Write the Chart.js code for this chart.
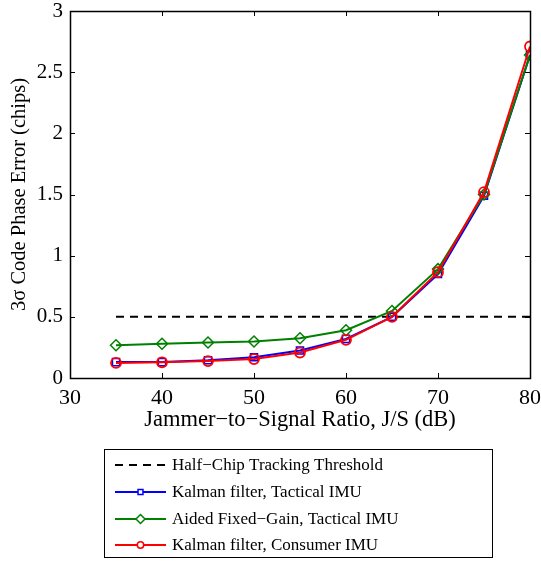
<!DOCTYPE html>
<html>
<head>
<meta charset="utf-8">
<script src="https://cdn.jsdelivr.net/npm/chart.js@4.4.0/dist/chart.umd.min.js"></script>
<style>
  html, body { margin: 0; padding: 0; background: #fff; }
  #wrap { width: 541px; height: 562px; }
</style>
</head>
<body>
<div id="wrap"><canvas id="phaseChart"></canvas></div>
<script>
// data
const jsRatio = [35, 40, 45, 50, 55, 60, 65, 70, 75, 80];
const kalmanTactical = [0.13, 0.13, 0.145, 0.17, 0.225, 0.32, 0.5, 0.85, 1.49, 2.64];
const fixedGainTactical = [0.268, 0.28, 0.29, 0.298, 0.325, 0.39, 0.548, 0.89, 1.5, 2.64];
const kalmanConsumer = [0.123, 0.128, 0.138, 0.155, 0.208, 0.312, 0.5, 0.865, 1.52, 2.71];
const thresholdX = [35, 80];
const thresholdY = [0.5, 0.5];
const xTicks = [30, 40, 50, 60, 70, 80];
const yTicks = [0, 0.5, 1, 1.5, 2, 2.5, 3];

const legendLabels = [
  "Half\u2212Chip Tracking Threshold",
  "Kalman filter, Tactical IMU",
  "Aided Fixed\u2212Gain, Tactical IMU",
  "Kalman filter, Consumer IMU",
];

const FONT = "'Liberation Serif', 'Times New Roman', serif";

const toPoints = (xs, ys) => xs.map((x, i) => ({ x: x, y: ys[i] }));

// box + inward ticks on all four sides, like matlab
const framePlugin = {
  id: "frame",
  afterDraw(chart) {
    const { ctx, chartArea: a, scales } = chart;
    const len = 5;
    ctx.save();
    ctx.strokeStyle = "#000";
    ctx.lineWidth = 1;
    ctx.beginPath();
    xTicks.forEach((v) => {
      const px = Math.round(scales.x.getPixelForValue(v)) + 0.5;
      ctx.moveTo(px, a.bottom);
      ctx.lineTo(px, a.bottom - len);
      ctx.moveTo(px, a.top);
      ctx.lineTo(px, a.top + len);
    });
    yTicks.forEach((v) => {
      const py = Math.round(scales.y.getPixelForValue(v)) + 0.5;
      ctx.moveTo(a.left, py);
      ctx.lineTo(a.left + len, py);
      ctx.moveTo(a.right, py);
      ctx.lineTo(a.right - len, py);
    });
    ctx.stroke();
    ctx.lineWidth = 1.5;
    ctx.strokeRect(Math.round(a.left) + 0.5, Math.round(a.top) + 0.5,
      Math.round(a.right - a.left), Math.round(a.bottom - a.top));
    ctx.restore();
  },
};

// legend box under the axes
const legendMarkerSize = [0, 3.5, 4.5, 3.2];

const legendBoxPlugin = {
  id: "legendBox",
  afterDraw(chart) {
    const ctx = chart.ctx;
    const box = { x: 104, y: 449, w: 388, h: 108 };
    const rowY = [465, 492, 519, 545];
    ctx.save();
    ctx.fillStyle = "#fff";
    ctx.fillRect(box.x, box.y, box.w, box.h);
    ctx.strokeStyle = "#000";
    ctx.lineWidth = 1;
    ctx.strokeRect(box.x + 0.5, box.y + 0.5, box.w, box.h);
    ctx.font = "17px " + FONT;
    ctx.textBaseline = "middle";
    chart.data.datasets.forEach((ds, i) => {
      const y = rowY[i];
      ctx.strokeStyle = ds.borderColor;
      ctx.lineWidth = 2;
      ctx.setLineDash(ds.borderDash || []);
      ctx.beginPath();
      ctx.moveTo(115, y);
      ctx.lineTo(166, y);
      ctx.stroke();
      ctx.setLineDash([]);
      if (ds.pointRadius > 0) {
        ctx.fillStyle = "#fff";
        ctx.strokeStyle = ds.pointBorderColor;
        ctx.lineWidth = 1.5;
        Chart.helpers.drawPoint(ctx, {
          pointStyle: ds.pointStyle,
          radius: legendMarkerSize[i],
          borderWidth: 1.5,
          rotation: 0,
        }, 140.5, y);
      }
      ctx.fillStyle = "#000";
      ctx.fillText(legendLabels[i], 172, y + 1);
    });
    ctx.restore();
  },
};

const data = {
  datasets: [
    {
      label: legendLabels[0],
      data: toPoints(thresholdX, thresholdY),
      borderColor: "#000",
      borderWidth: 2,
      borderDash: [8, 6],
      pointRadius: 0,
      order: 4,
    },
    {
      label: legendLabels[1],
      data: toPoints(jsRatio, kalmanTactical),
      borderColor: "#0000ff",
      borderWidth: 2,
      pointStyle: "rect",
      pointRadius: 5,
      pointBorderWidth: 1.5,
      pointBackgroundColor: "rgba(0,0,0,0)",
      pointBorderColor: "#0000ff",
      order: 3,
    },
    {
      label: legendLabels[2],
      data: toPoints(jsRatio, fixedGainTactical),
      borderColor: "#008000",
      borderWidth: 2,
      pointStyle: "rectRot",
      pointRadius: 5.5,
      pointBorderWidth: 1.5,
      pointBackgroundColor: "rgba(0,0,0,0)",
      pointBorderColor: "#008000",
      order: 2,
    },
    {
      label: legendLabels[3],
      data: toPoints(jsRatio, kalmanConsumer),
      borderColor: "#ff0000",
      borderWidth: 2,
      pointStyle: "circle",
      pointRadius: 5,
      pointBorderWidth: 1.8,
      pointBackgroundColor: "rgba(0,0,0,0)",
      pointBorderColor: "#ff0000",
      order: 1,
    },
  ],
};

const config = {
  type: "line",
  data: data,
  options: {
    responsive: true,
    maintainAspectRatio: false,
    animation: false,
    layout: { padding: { top: 11, right: 11, bottom: 128, left: 0 } },
    plugins: {
      legend: { display: false },
      tooltip: { enabled: false },
    },
    elements: { line: { tension: 0 } },
    scales: {
      x: {
        type: "linear",
        min: 30,
        max: 80,
        afterFit: (scale) => {
          scale.height = 56;
          scale.paddingLeft = 0;
          scale.paddingRight = 0;
        },
        afterBuildTicks: (scale) => { scale.ticks = xTicks.map((v) => ({ value: v })); },
        grid: { display: false, drawTicks: false },
        border: { display: false },
        ticks: {
          color: "#000",
          font: { family: FONT, size: 22 },
          padding: 7,
          maxRotation: 0,
          callback: (v) => String(v),
        },
        title: {
          display: true,
          text: "Jammer\u2212to\u2212Signal Ratio, J/S (dB)",
          color: "#000",
          font: { family: FONT, size: 22.5 },
          padding: { top: 0, bottom: 0 },
        },
      },
      y: {
        min: 0,
        max: 3,
        afterFit: (scale) => {
          scale.width = 70;
          scale.paddingTop = 0;
          scale.paddingBottom = 0;
        },
        afterBuildTicks: (scale) => { scale.ticks = yTicks.map((v) => ({ value: v })); },
        grid: { display: false, drawTicks: false },
        border: { display: false },
        ticks: {
          color: "#000",
          font: { family: FONT, size: 21 },
          padding: 7,
          callback: (v) => String(v),
        },
        title: {
          display: true,
          text: "3\u03c3 Code Phase Error (chips)",
          color: "#000",
          font: { family: FONT, size: 20.5 },
          padding: { top: 7, bottom: 0 },
        },
      },
    },
  },
  plugins: [framePlugin, legendBoxPlugin],
};

const phaseChart = new Chart(document.getElementById("phaseChart"), config);
</script>
</body>
</html>
